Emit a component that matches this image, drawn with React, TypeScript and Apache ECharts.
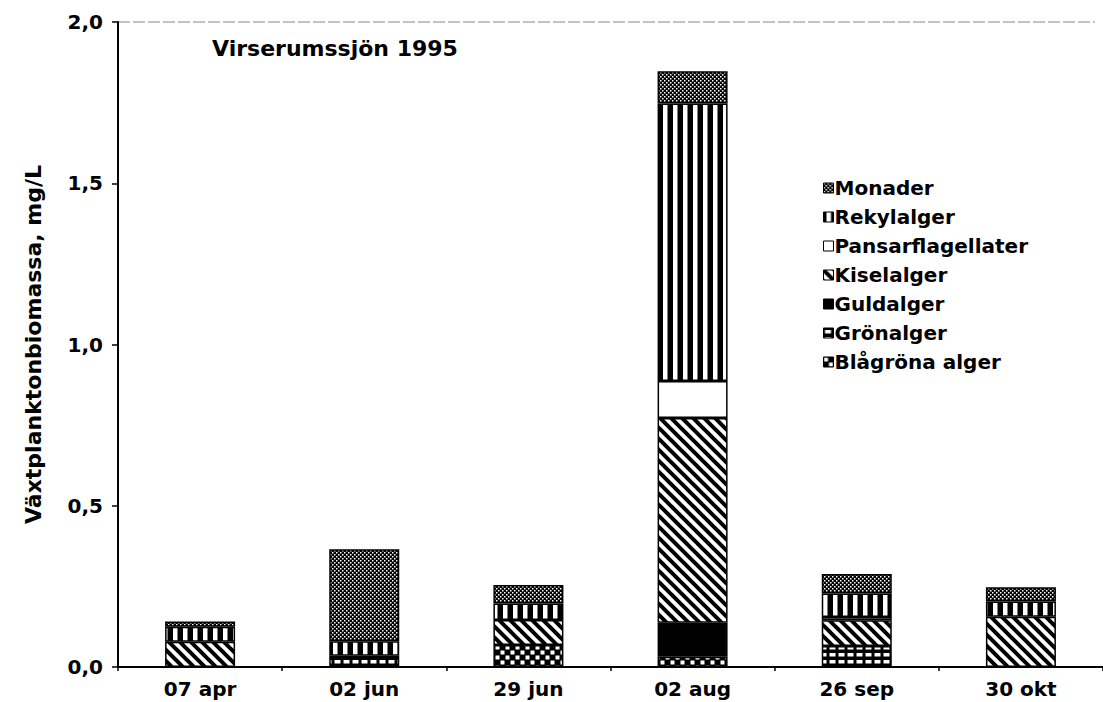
import React, { useEffect, useRef } from "react";
import * as echarts from "echarts";

const categories = ["07 apr", "02 jun", "29 jun", "02 aug", "26 sep", "30 okt"];
const blagrona = [0, 0, 0.068, 0.032, 0, 0];
const gronalger = [0, 0.035, 0, 0, 0.065, 0];
const guldalger = [0, 0, 0, 0.105, 0, 0];
const kiselalger = [0.078, 0, 0.078, 0.635, 0.08, 0.156];
const pansarflagellater = [0, 0, 0, 0.115, 0.01, 0];
const rekylalger = [0.047, 0.045, 0.051, 0.86, 0.073, 0.047];
const monader = [0.016, 0.285, 0.057, 0.1, 0.06, 0.044];
const yTicks = [0, 0.5, 1, 1.5, 2];

const FONT = "'DejaVu Sans', 'Liberation Sans', Arial, sans-serif";

function makePattern(w: number, h: number, draw: (ctx: CanvasRenderingContext2D) => void): any {
  const c = document.createElement("canvas");
  c.width = w;
  c.height = h;
  const ctx = c.getContext("2d") as CanvasRenderingContext2D;
  draw(ctx);
  return { image: c.toDataURL(), repeat: "repeat", imageWidth: w, imageHeight: h };
}

export default function App() {
  const ref = useRef<HTMLDivElement>(null);
  useEffect(() => {
    if (!ref.current) return;
    const chart = echarts.init(ref.current, null, { renderer: "svg" });

    const pMonader = makePattern(4, 4, (ctx) => {
      ctx.fillStyle = "#000"; ctx.fillRect(0, 0, 4, 4);
      ctx.fillStyle = "#fff"; ctx.fillRect(0, 0, 1.5, 1.5); ctx.fillRect(2, 2, 1.5, 1.5);
    });
    const pRekyl = makePattern(10, 8, (ctx) => {
      ctx.fillStyle = "#000"; ctx.fillRect(0, 0, 10, 8);
      ctx.fillStyle = "#fff"; ctx.fillRect(3, 0, 4.5, 8);
    });
    const pPansar = "#ffffff";
    const pKisel = makePattern(11, 11, (ctx) => {
      ctx.fillStyle = "#fff"; ctx.fillRect(0, 0, 11, 11);
      ctx.strokeStyle = "#000"; ctx.lineWidth = 4;
      for (const k of [-11, 0, 11]) {
        ctx.beginPath(); ctx.moveTo(k - 3, -3); ctx.lineTo(k + 14, 14); ctx.stroke();
      }
    });
    const pGuld = "#000000";
    const pGron = makePattern(9, 7, (ctx) => {
      ctx.fillStyle = "#000"; ctx.fillRect(0, 0, 9, 7);
      ctx.fillStyle = "#fff"; ctx.fillRect(1.5, 2, 6, 3.5);
    });
    const pBla = makePattern(10, 10, (ctx) => {
      ctx.fillStyle = "#000"; ctx.fillRect(0, 0, 10, 10);
      ctx.fillStyle = "#fff"; ctx.fillRect(0.5, 0.5, 4, 4); ctx.fillRect(5.5, 5.5, 4, 4);
    });

    const seriesDefs: [string, number[], any][] = [
      ["Blågröna alger", blagrona, pBla],
      ["Grönalger", gronalger, pGron],
      ["Guldalger", guldalger, pGuld],
      ["Kiselalger", kiselalger, pKisel],
      ["Pansarflagellater", pansarflagellater, pPansar],
      ["Rekylalger", rekylalger, pRekyl],
      ["Monader", monader, pMonader],
    ];

    const series = seriesDefs.map(([name, data, color]) => ({
      name,
      type: "bar",
      stack: "total",
      barWidth: 70,
      data: data.map((v) => (v === 0 ? null : v)),
      itemStyle: { color, borderColor: "#000", borderWidth: 1.5 },
    }));

    chart.setOption({
      animation: false,
      backgroundColor: "#ffffff",
      title: {
        text: "Virserumssjön 1995",
        left: 207,
        top: 32,
        textStyle: { fontFamily: FONT, fontSize: 22, fontWeight: "bold", color: "#000" },
      },
      legend: {
        orient: "vertical",
        left: 818,
        top: 173,
        itemWidth: 10,
        itemHeight: 10,
        itemGap: 9,
        icon: "rect",
        data: ["Monader", "Rekylalger", "Pansarflagellater", "Kiselalger", "Guldalger", "Grönalger", "Blågröna alger"],
        itemStyle: { borderColor: "#000", borderWidth: 1 },
        textStyle: { fontFamily: FONT, fontSize: 20, fontWeight: "bold", color: "#000", lineHeight: 20, padding: [0, 0, 0, -4] },
      },
      grid: { left: 118, top: 22, width: 993, height: 645, containLabel: false },
      graphic: [
        {
          type: "line",
          shape: { x1: 118, y1: 22, x2: 1095, y2: 22 },
          style: { stroke: "#888", lineWidth: 1, lineDash: [12, 3] },
          silent: true,
        },
      ],
      xAxis: {
        type: "category",
        data: categories,
        boundaryGap: true,
        axisLine: { lineStyle: { color: "#000", width: 2 } },
        axisTick: { show: true, length: 4, lineStyle: { color: "#000", width: 1.5 } },
        axisLabel: { color: "#000", fontFamily: FONT, fontSize: 20, fontWeight: "bold", margin: 12 },
        splitLine: { show: false },
      },
      yAxis: {
        type: "value",
        min: yTicks[0],
        max: yTicks[yTicks.length - 1],
        interval: 0.5,
        name: "Växtplanktonbiomassa, mg/L",
        nameLocation: "middle",
        nameGap: 74,
        nameTextStyle: { fontFamily: FONT, fontSize: 22, fontWeight: "bold", color: "#000" },
        axisLine: { show: true, lineStyle: { color: "#000", width: 2 } },
        axisTick: { show: true, length: 6, lineStyle: { color: "#000", width: 1.5 } },
        axisLabel: {
          color: "#000",
          fontFamily: FONT,
          fontSize: 20,
          fontWeight: "bold",
          margin: 15,
          formatter: (v: number) => v.toFixed(1).replace(".", ","),
        },
        splitLine: { show: false },
      },
      series,
    });
    return () => chart.dispose();
  }, []);
  return <div ref={ref} style={{ position: "fixed", left: 0, top: 0, width: 1103, height: 702 }} />;
}
